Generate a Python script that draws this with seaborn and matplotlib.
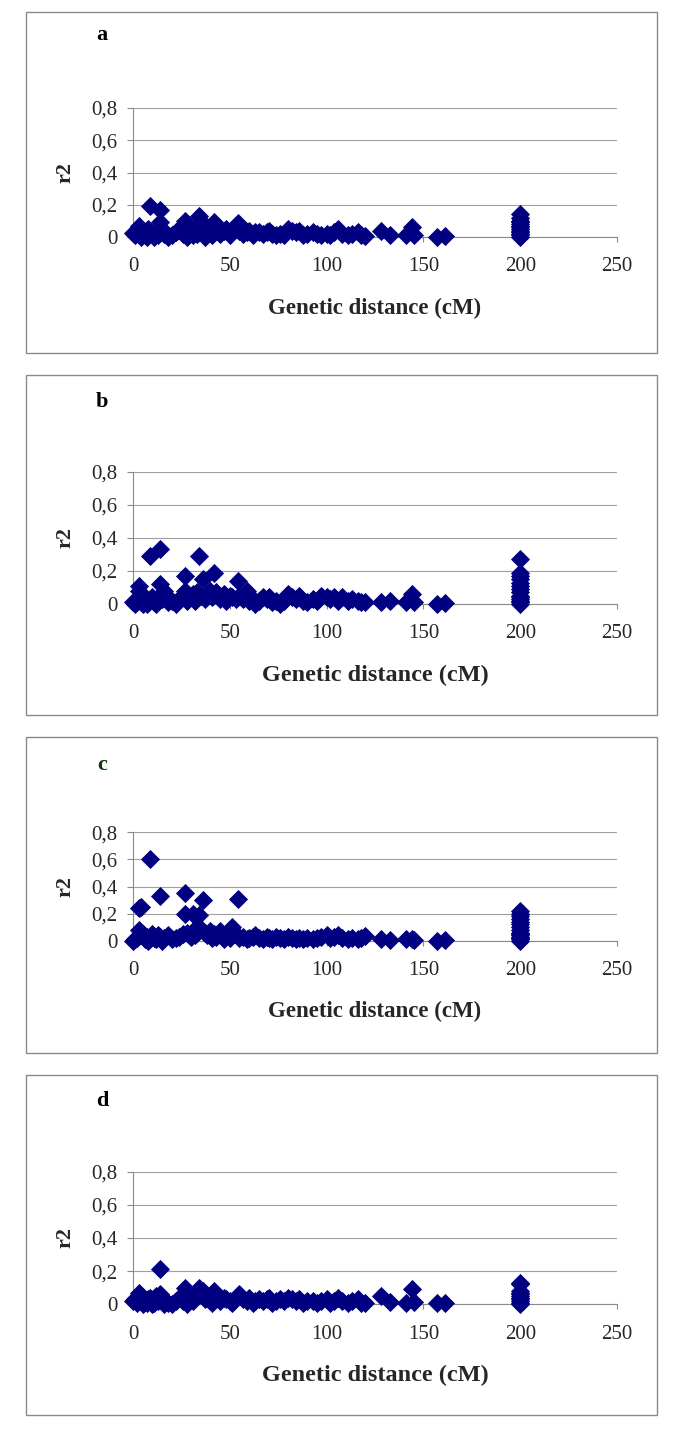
import matplotlib
matplotlib.use('Agg')
import matplotlib.pyplot as plt
from matplotlib.patches import Rectangle
import seaborn as sns

# distance between marker pairs (cM), shared by the four populations
dist_cm = [0, 1, 2, 3, 3, 4, 5, 6, 7, 8, 9, 10, 11, 12, 13, 14, 14, 15, 16, 18,
           20, 22, 24, 26, 27, 27, 28, 30, 31, 32, 33, 34, 35, 36, 37, 38, 40, 41, 42, 43,
           45, 47, 48, 50, 51, 53, 54, 55, 57, 59, 60, 62, 63, 65, 67, 69, 70, 72, 74, 76,
           78, 80, 82, 84, 86, 88, 90, 93, 95, 97, 100, 102, 104, 106, 108, 111, 113, 116, 118, 120,
           128, 133, 141, 144, 145, 157, 161]

r2_a = [0.025, 0.01, 0.04, 0.07, 0.02, 0.0, 0.03, 0.01, 0.0, 0.05, 0.19, 0.02, 0.0, 0.04, 0.01, 0.165, 0.09, 0.05, 0.02, 0.0,
        0.01, 0.03, 0.05, 0.02, 0.1, 0.04, 0.0, 0.03, 0.01, 0.05, 0.02, 0.13, 0.09, 0.04, 0.0, 0.06, 0.03, 0.01, 0.09, 0.05,
        0.02, 0.04, 0.05, 0.01, 0.03, 0.06, 0.085, 0.04, 0.02, 0.03, 0.04, 0.01, 0.03, 0.03, 0.02, 0.03, 0.04, 0.02, 0.01, 0.02,
        0.01, 0.05, 0.04, 0.03, 0.04, 0.01, 0.02, 0.03, 0.02, 0.01, 0.02, 0.01, 0.03, 0.05, 0.02, 0.01, 0.02, 0.03, 0.01, 0.005,
        0.04, 0.01, 0.01, 0.065, 0.01, 0.0, 0.005]

r2_b = [0.01, 0.0, 0.02, 0.11, 0.08, 0.01, 0.0, 0.03, 0.0, 0.02, 0.29, 0.04, 0.01, 0.0, 0.02, 0.33, 0.12, 0.03, 0.08, 0.01,
        0.02, 0.0, 0.03, 0.05, 0.17, 0.08, 0.02, 0.04, 0.06, 0.02, 0.07, 0.29, 0.05, 0.15, 0.03, 0.06, 0.08, 0.04, 0.19, 0.07,
        0.03, 0.06, 0.02, 0.05, 0.04, 0.03, 0.14, 0.05, 0.03, 0.08, 0.02, 0.03, 0.0, 0.02, 0.04, 0.03, 0.04, 0.01, 0.02, 0.0,
        0.02, 0.06, 0.04, 0.03, 0.05, 0.02, 0.01, 0.03, 0.02, 0.05, 0.04, 0.03, 0.04, 0.02, 0.04, 0.02, 0.03, 0.02, 0.01, 0.01,
        0.01, 0.02, 0.01, 0.06, 0.015, 0.0, 0.005]

r2_c = [0.0, 0.01, 0.02, 0.24, 0.08, 0.25, 0.05, 0.01, 0.03, 0.0, 0.6, 0.05, 0.02, 0.01, 0.04, 0.33, 0.03, 0.0, 0.02, 0.04,
        0.01, 0.02, 0.03, 0.05, 0.35, 0.2, 0.06, 0.03, 0.2, 0.04, 0.1, 0.19, 0.09, 0.3, 0.06, 0.04, 0.07, 0.02, 0.05, 0.03,
        0.07, 0.01, 0.04, 0.02, 0.1, 0.05, 0.31, 0.02, 0.03, 0.01, 0.02, 0.03, 0.04, 0.02, 0.01, 0.03, 0.02, 0.01, 0.03, 0.02,
        0.01, 0.03, 0.02, 0.01, 0.02, 0.01, 0.02, 0.01, 0.02, 0.03, 0.04, 0.02, 0.03, 0.04, 0.02, 0.01, 0.02, 0.01, 0.02, 0.035,
        0.01, 0.005, 0.01, 0.01, 0.005, 0.0, 0.005]

r2_d = [0.02, 0.03, 0.01, 0.07, 0.03, 0.04, 0.0, 0.02, 0.01, 0.03, 0.04, 0.0, 0.01, 0.05, 0.02, 0.21, 0.06, 0.03, 0.0, 0.01,
        0.0, 0.02, 0.04, 0.02, 0.1, 0.04, 0.0, 0.03, 0.02, 0.05, 0.08, 0.1, 0.06, 0.08, 0.03, 0.05, 0.04, 0.01, 0.08, 0.05,
        0.02, 0.04, 0.03, 0.02, 0.01, 0.04, 0.05, 0.06, 0.03, 0.02, 0.04, 0.01, 0.02, 0.03, 0.02, 0.03, 0.04, 0.01, 0.02, 0.03,
        0.02, 0.04, 0.03, 0.02, 0.03, 0.01, 0.02, 0.02, 0.01, 0.02, 0.03, 0.01, 0.02, 0.04, 0.02, 0.01, 0.02, 0.03, 0.01, 0.005,
        0.05, 0.015, 0.01, 0.09, 0.015, 0.01, 0.005]

# unlinked marker pairs, plotted at 200 cM
unlinked_cm = 200
unl_a = [0.14, 0.12, 0.1, 0.09, 0.08, 0.07, 0.06, 0.05, 0.04, 0.03, 0.02, 0.01, 0.0]
unl_b = [0.27, 0.19, 0.17, 0.15, 0.13, 0.11, 0.09, 0.07, 0.05, 0.04, 0.03, 0.02, 0.01, 0.0]
unl_c = [0.22, 0.2, 0.18, 0.16, 0.14, 0.12, 0.1, 0.08, 0.06, 0.05, 0.04, 0.03, 0.02, 0.01, 0.0]
unl_d = [0.13, 0.12, 0.08, 0.07, 0.06, 0.05, 0.04, 0.03, 0.02, 0.01, 0.0]

panel_letters = ['a', 'b', 'c', 'd']
y_ticks = [0, 0.2, 0.4, 0.6, 0.8]
y_ticklabels = ['0', '0,2', '0,4', '0,6', '0,8']
x_ticks = [0, 50, 100, 150, 200, 250]

sns.set_style('white')
plt.rcParams['font.family'] = ['Liberation Serif', 'DejaVu Serif']

W, H = 685, 1447
fig = plt.figure(figsize=(W / 100, H / 100), dpi=100)

# layout in pixels: axis top (0.8), axis bottom (0), frame top, frame bottom, letter y
layout = [
    (108, 237, 12, 353, 35),
    (471.7, 604, 375, 715, 402),
    (832.3, 940.7, 737, 1053, 765),
    (1171.7, 1304.3, 1075, 1415, 1101),
]
xlabel_sizes = [16.5, 17.5, 16.5, 17.5]
letter_colors = ['black', 'black', '#0a3a0a', 'black']
ax_left, ax_right = 133, 617
grey = '#8a8a8a'

panels = [(r2_a, unl_a), (r2_b, unl_b), (r2_c, unl_c), (r2_d, unl_d)]

for i, (r2, unl) in enumerate(panels):
    top, bot, ftop, fbot, ly = layout[i]
    ax = fig.add_axes([ax_left / W, 1 - bot / H, (ax_right - ax_left) / W, (bot - top) / H])

    fig.add_artist(Rectangle((26 / W, 1 - fbot / H), (657 - 26) / W, (fbot - ftop) / H,
                             transform=fig.transFigure, fill=False, edgecolor=grey, lw=1))

    xs = dist_cm + [unlinked_cm] * len(unl)
    ys = r2 + unl
    sns.scatterplot(x=xs, y=ys, ax=ax, marker='D', color='#000080', s=95,
                    linewidth=0, clip_on=False, zorder=3)

    ax.set_xlim(0, 250)
    ax.set_ylim(0, 0.8)
    ax.set_xticks(x_ticks)
    ax.set_yticks(y_ticks)
    ax.set_yticklabels(y_ticklabels)
    ax.tick_params(axis='x', direction='out', length=3.6, width=0.8, color=grey,
                   labelsize=15, pad=11, bottom=True)
    ax.tick_params(axis='y', direction='out', length=4.3, width=0.8, color=grey,
                   labelsize=15, pad=7, left=True)
    for s in ['top', 'right']:
        ax.spines[s].set_visible(False)
    for s in ['left', 'bottom']:
        ax.spines[s].set_color(grey)
        ax.spines[s].set_linewidth(0.8)
    ax.yaxis.grid(True, color='#a0a0a0', lw=0.8)
    ax.set_axisbelow(True)

    ax_h = bot - top
    ax.set_xlabel('Genetic distance (cM)', fontsize=xlabel_sizes[i], fontweight='bold', va='center')
    ax.xaxis.set_label_coords(0.5, -71 / ax_h)
    ax.set_ylabel('r2', fontsize=16, fontweight='bold', va='center')
    ax.yaxis.set_label_coords((65 - ax_left) / (ax_right - ax_left), 0.5)

    fig.text(102 / W, 1 - ly / H, panel_letters[i], fontsize=16, fontweight='bold',
             color=letter_colors[i], ha='center', va='center')

fig.savefig('out.png', dpi=100)
